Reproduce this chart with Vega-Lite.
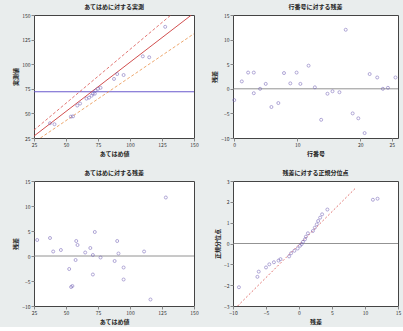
{
  "$schema": "https://vega.github.io/schema/vega-lite/v6.json",
  "background": "#e9eded",
  "padding": {"left": 12, "top": 3, "right": 2, "bottom": 2},
  "config": {
    "font": "Noto Sans CJK JP",
    "view": {"fill": "white", "stroke": "#444", "strokeWidth": 1},
    "axis": {"labelFontSize": 5, "titleFontSize": 6, "grid": false, "tickSize": 3, "domain": false, "labelColor": "#333", "titleColor": "#222", "titlePadding": 3, "labelPadding": 1, "labelOverlap": false, "labelFlush": false},
    "title": {"fontSize": 6, "fontWeight": "bold", "color": "#222", "offset": 3},
    "concat": {"spacing": 12}
  },
  "datasets": {
    "ap": [
      {"p": 37.5, "a": 40}, {"p": 41, "a": 39}, {"p": 53.8, "a": 46.7}, {"p": 55.5, "a": 47}, {"p": 58.8, "a": 58},
      {"p": 61, "a": 60}, {"p": 66, "a": 65}, {"p": 68, "a": 66}, {"p": 70, "a": 68}, {"p": 71, "a": 70},
      {"p": 72.5, "a": 70}, {"p": 73, "a": 73}, {"p": 75, "a": 75}, {"p": 77, "a": 76}, {"p": 87.5, "a": 85},
      {"p": 90, "a": 90}, {"p": 95, "a": 89}, {"p": 110, "a": 108}, {"p": 115, "a": 107}, {"p": 127.5, "a": 138}
    ],
    "lines": [
      {"s": "fit", "x": 25, "y": 27}, {"s": "fit", "x": 148, "y": 150},
      {"s": "upper", "x": 25, "y": 33}, {"s": "upper", "x": 132, "y": 150},
      {"s": "lower", "x": 30, "y": 25}, {"s": "lower", "x": 150, "y": 131}
    ],
    "row": [
      {"r": 0, "e": -2.3}, {"r": 1.2, "e": 1.5}, {"r": 2.2, "e": 3.3}, {"r": 3.1, "e": 3.3}, {"r": 3.1, "e": -0.9},
      {"r": 4.1, "e": 0}, {"r": 5, "e": 1}, {"r": 5.9, "e": -3.7}, {"r": 7, "e": -2.9}, {"r": 7.9, "e": 3.2},
      {"r": 8.9, "e": 1.1}, {"r": 9.9, "e": 3.3}, {"r": 10.5, "e": 1}, {"r": 11.8, "e": 4.7}, {"r": 12.8, "e": 0.3},
      {"r": 13.8, "e": -6.3}, {"r": 14.8, "e": -1}, {"r": 15.6, "e": -0.5}, {"r": 16.7, "e": -0.7}, {"r": 17.7, "e": 12},
      {"r": 18.8, "e": -5}, {"r": 19.7, "e": -6}, {"r": 20.7, "e": -9}, {"r": 21.5, "e": 3}, {"r": 22.7, "e": 2.3},
      {"r": 23.6, "e": 0}, {"r": 24.4, "e": 0.2}, {"r": 25.6, "e": 2.3}
    ],
    "rp": [
      {"p": 27.5, "e": 3.2}, {"p": 37.5, "e": 3.6}, {"p": 40, "e": 0.9}, {"p": 46, "e": 1.2}, {"p": 52.5, "e": -2.6},
      {"p": 55, "e": -6}, {"p": 58, "e": 3}, {"p": 59, "e": 2.2}, {"p": 57.5, "e": -0.8}, {"p": 65, "e": 0.7},
      {"p": 69, "e": 1.6}, {"p": 71, "e": 0.2}, {"p": 71, "e": -3.7}, {"p": 72.5, "e": 4.8}, {"p": 77, "e": -0.3},
      {"p": 88, "e": -1}, {"p": 90, "e": 3}, {"p": 91, "e": 0.5}, {"p": 95, "e": -2.3}, {"p": 95, "e": -4.7},
      {"p": 111, "e": 0.9}, {"p": 116, "e": -8.7}, {"p": 128, "e": 11.7}, {"p": 54, "e": -6.2}
    ],
    "nq": [
      {"e": -9.1, "q": -2.1}, {"e": -6.3, "q": -1.6}, {"e": -6.1, "q": -1.35}, {"e": -5, "q": -1.15}, {"e": -4.5, "q": -1},
      {"e": -3.8, "q": -0.9}, {"e": -3.1, "q": -0.82}, {"e": -2.8, "q": -0.75}, {"e": -1.5, "q": -0.62}, {"e": -1.2, "q": -0.47},
      {"e": -0.7, "q": -0.35}, {"e": -0.2, "q": -0.24}, {"e": 0.15, "q": -0.11}, {"e": 0.4, "q": -0.03}, {"e": 0.6, "q": 0.08},
      {"e": 0.9, "q": 0.2}, {"e": 1.05, "q": 0.33}, {"e": 1.35, "q": 0.49}, {"e": 2.1, "q": 0.6}, {"e": 2.4, "q": 0.76},
      {"e": 2.7, "q": 0.92}, {"e": 2.9, "q": 1.08}, {"e": 3.2, "q": 1.24}, {"e": 3.5, "q": 1.4}, {"e": 4.3, "q": 1.63},
      {"e": 11.2, "q": 2.1}, {"e": 11.9, "q": 2.15}
    ],
    "nqline": [{"e": -9.3, "q": -3}, {"e": 8.6, "q": 2.67}]
  },
  "concat": [
    {
      "title": "あてはめに対する実測",
      "width": 160, "height": 123,
      "encoding": {
        "x": {"type": "quantitative", "title": "あてはめ値", "scale": {"domain": [25, 150], "nice": false}, "axis": {"values": [25, 50, 75, 100, 125, 150], "labelOverlap": false}},
        "y": {"type": "quantitative", "title": "実測値", "scale": {"domain": [25, 150], "nice": false}, "axis": {"values": [25, 50, 75, 100, 125, 150], "labelOverlap": false}}
      },
      "layer": [
        {
          "data": {"values": [{"m": 72}]},
          "mark": {"type": "rule", "color": "#6a5acd", "strokeWidth": 1.2},
          "encoding": {"x": null, "y": {"field": "m"}}
        },
        {
          "data": {"name": "lines"},
          "transform": [{"filter": "datum.s !== 'fit'"}],
          "mark": {"type": "line", "clip": true, "strokeWidth": 0.8, "strokeDash": [3, 2]},
          "encoding": {
            "x": {"field": "x"},
            "y": {"field": "y"},
            "detail": {"field": "s"},
            "color": {"field": "s", "type": "nominal", "scale": {"domain": ["upper", "lower"], "range": ["#d9534f", "#e8924a"]}, "legend": null}
          }
        },
        {
          "data": {"name": "lines"},
          "transform": [{"filter": "datum.s === 'fit'"}],
          "mark": {"type": "line", "clip": true, "strokeWidth": 0.9, "color": "#cc3b3b"},
          "encoding": {"x": {"field": "x"}, "y": {"field": "y"}}
        },
        {
          "data": {"name": "ap"},
          "mark": {"type": "point", "shape": "circle", "size": 9, "color": "#7565b8", "strokeWidth": 0.8},
          "encoding": {"x": {"field": "p"}, "y": {"field": "a"}}
        }
      ]
    },
    {
      "title": "行番号に対する残差",
      "width": 165, "height": 123,
      "encoding": {
        "x": {"type": "quantitative", "title": "行番号", "scale": {"domain": [-0.2, 26], "nice": false}, "axis": {"values": [0, 10, 20, 25], "labelOverlap": false}},
        "y": {"type": "quantitative", "title": "残差", "scale": {"domain": [-10, 15], "nice": false}, "axis": {"values": [-10, -5, 0, 5, 10, 15], "labelOverlap": false}}
      },
      "layer": [
        {
          "data": {"values": [{"m": 0}]},
          "mark": {"type": "rule", "color": "#777", "strokeWidth": 0.8},
          "encoding": {"x": null, "y": {"field": "m"}}
        },
        {
          "data": {"name": "row"},
          "mark": {"type": "point", "shape": "circle", "size": 9, "color": "#7565b8", "strokeWidth": 0.8},
          "encoding": {"x": {"field": "r"}, "y": {"field": "e"}}
        }
      ]
    },
    {
      "title": "あてはめに対する残差",
      "width": 160, "height": 125,
      "encoding": {
        "x": {"type": "quantitative", "title": "あてはめ値", "scale": {"domain": [25, 150], "nice": false}, "axis": {"values": [25, 50, 75, 100, 125, 150], "labelOverlap": false}},
        "y": {"type": "quantitative", "title": "残差", "scale": {"domain": [-10, 15], "nice": false}, "axis": {"values": [-10, -5, 0, 5, 10, 15], "labelOverlap": false}}
      },
      "layer": [
        {
          "data": {"values": [{"m": 0}]},
          "mark": {"type": "rule", "color": "#777", "strokeWidth": 0.8},
          "encoding": {"x": null, "y": {"field": "m"}}
        },
        {
          "data": {"name": "rp"},
          "mark": {"type": "point", "shape": "circle", "size": 9, "color": "#7565b8", "strokeWidth": 0.8},
          "encoding": {"x": {"field": "p"}, "y": {"field": "e"}}
        }
      ]
    },
    {
      "title": "残差に対する正規分位点",
      "width": 165, "height": 125,
      "encoding": {
        "x": {"type": "quantitative", "title": "残差", "scale": {"domain": [-10, 15], "nice": false}, "axis": {"values": [-10, -5, 0, 5, 10, 15], "labelOverlap": false}},
        "y": {"type": "quantitative", "title": "正規分位点", "scale": {"domain": [-3, 3], "nice": false}, "axis": {"values": [-3, -2, -1, 0, 1, 2, 3], "labelOverlap": false}}
      },
      "layer": [
        {
          "data": {"values": [{"m": 0}]},
          "mark": {"type": "rule", "color": "#777", "strokeWidth": 0.8},
          "encoding": {"x": null, "y": {"field": "m"}}
        },
        {
          "data": {"name": "nqline"},
          "mark": {"type": "line", "color": "#d9534f", "strokeWidth": 0.8, "strokeDash": [2, 2]},
          "encoding": {"x": {"field": "e"}, "y": {"field": "q"}}
        },
        {
          "data": {"name": "nq"},
          "mark": {"type": "point", "shape": "circle", "size": 9, "color": "#7565b8", "strokeWidth": 0.8},
          "encoding": {"x": {"field": "e"}, "y": {"field": "q"}}
        }
      ]
    }
  ],
  "columns": 2
}
